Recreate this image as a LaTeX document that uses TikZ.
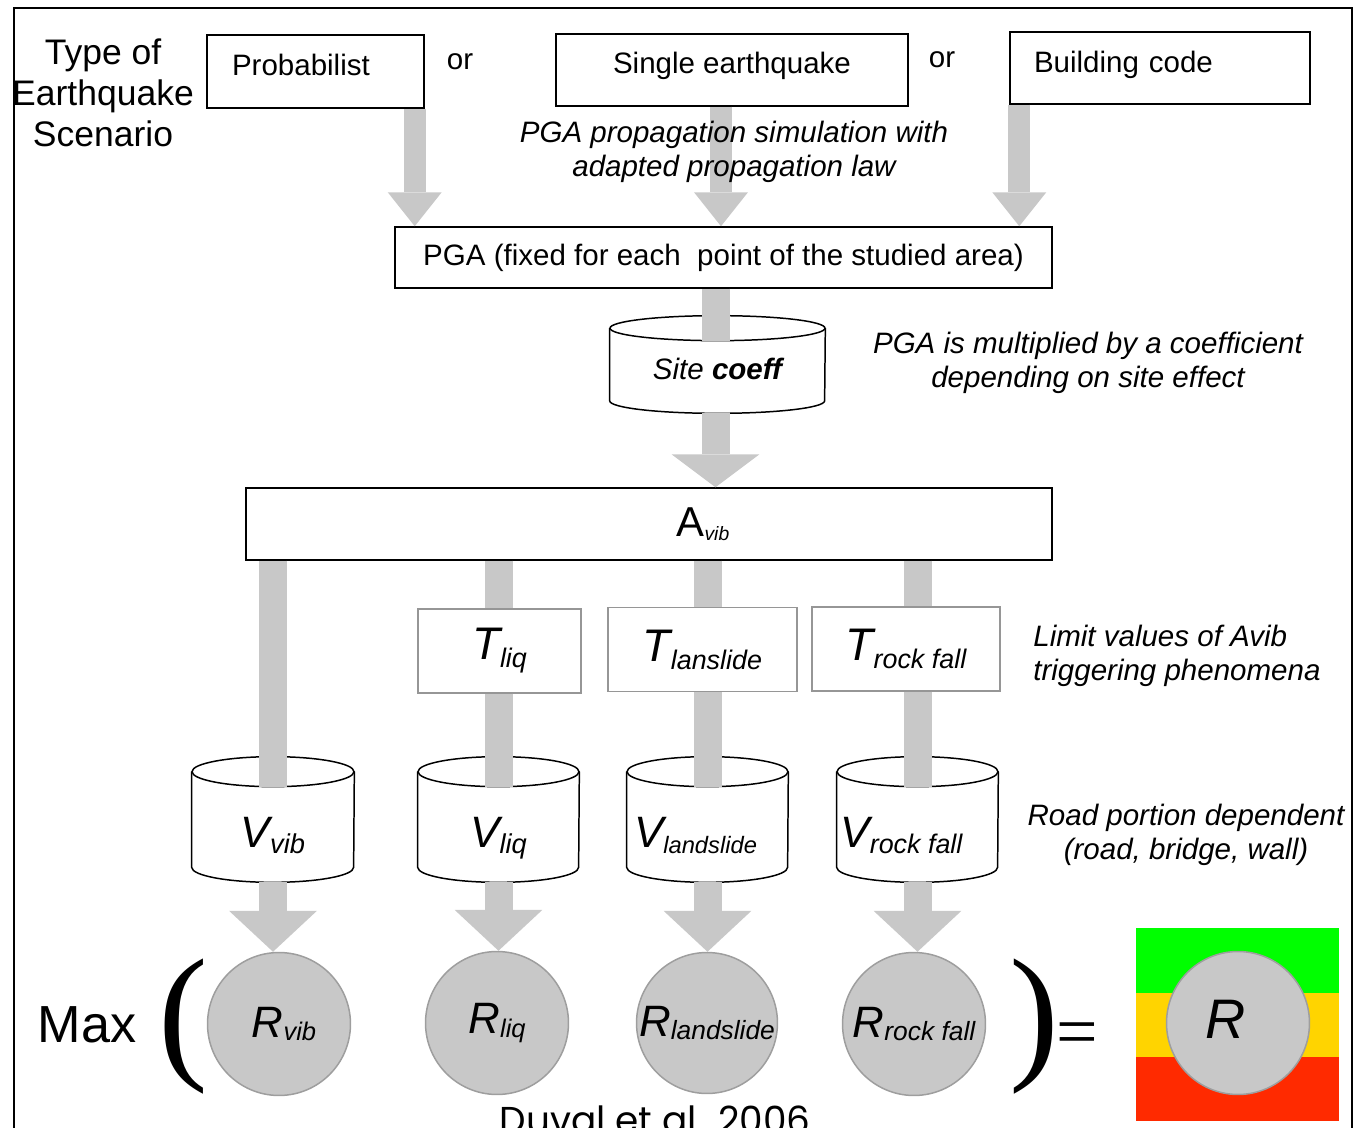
\documentclass[tikz,border=0pt]{standalone}
\usepackage{fontspec}
\setmainfont{Liberation Sans}
\newfontfamily\serifglyph{Liberation Serif}
\newfontfamily\gothicfont{Poppins}
\usepackage{tikz}
\usetikzlibrary{arrows.meta, calc}
\usepackage{xcolor}
\definecolor{shaftgray}{RGB}{200,200,200}
\definecolor{rimgray}{RGB}{158,158,158}
\definecolor{boxgray}{RGB}{150,150,150}
\definecolor{riskgreen}{RGB}{0,255,0}
\definecolor{riskyellow}{RGB}{255,212,0}
\definecolor{riskred}{RGB}{255,42,0}
\newcommand{\lowsub}[3]{\raisebox{-#2}{\fontsize{#1}{#1}\selectfont\itshape #3}}

\begin{document}
\begin{tikzpicture}[x=0.02cm, y=-0.02cm,
  txt/.style={font=\fontsize{16.8}{19.3}\selectfont, inner sep=0pt},
  note/.style={font=\fontsize{16.8}{19.3}\selectfont\itshape, align=center, inner sep=0pt},
  srcbox/.style={draw, line width=0.85pt, inner ysep=0pt, font=\fontsize{16.8}{19.3}\selectfont},
  mainbox/.style={draw, line width=0.85pt, inner sep=0pt},
  limbox/.style={draw=boxgray, line width=0.85pt, inner sep=0pt, minimum height=1.68cm, font=\fontsize{26}{26}\selectfont\itshape},
  can/.style={line width=0.85pt},
  canbox/.style={inner sep=0pt, text height=1.82cm, text depth=0.68cm, font=\fontsize{25}{25}\selectfont\itshape},
  risk/.style={circle, fill=shaftgray, draw=rimgray, line width=0.85pt, inner sep=0pt, minimum size=2.86cm, font=\fontsize{25}{25}\selectfont\itshape},
  thinarrow/.style={draw=shaftgray, line width=0.44cm, -{Triangle[width=1.08cm, length=0.68cm, line width=0pt]}},
  widearrow/.style={draw=shaftgray, line width=0.56cm, -{Triangle[width=1.76cm, length=#1, line width=0pt]}},
  shaft/.style={draw=shaftgray, line width=0.56cm}]
  \useasboundingbox (0,0) rectangle (1357,1128);
  \clip (0,0) rectangle (1357,1128);
  % frame
  \draw[line width=1.1pt] (14,1140) -- (14,8) -- (1352,8) -- (1352,1140);
  % scenario row
  \node[font=\fontsize{20.2}{23.2}\selectfont, align=center, inner sep=0pt] (scen) at (103,93) {Type of\\Earthquake\\Scenario};
  \node[srcbox, text width=3.34cm, align=left, inner xsep=0.5cm, text height=0.82cm, text depth=0.64cm] (prob) at (315.5,71.5) {Probabilist};
  \node[txt] (or1) at (460,62) {or};
  \node[srcbox, minimum width=7.04cm, text height=0.8cm, text depth=0.64cm] (single) at (732,70) {Single earthquake};
  \node[txt] (or2) at (942,60) {or};
  \node[srcbox, text width=5.04cm, align=left, inner xsep=0.48cm, text height=0.82cm, text depth=0.62cm] (build) at (1160,68) {Building code};
  \node[mainbox, minimum width=13.14cm, minimum height=1.22cm, font=\fontsize{16.8}{19.3}\selectfont] (pga) at (723.5,257.5) {PGA (fixed for each \ point of the studied area)};
  % site effect
  \node[inner sep=0pt, minimum width=4.3cm, text height=1.28cm, text depth=0.66cm, font=\fontsize{16.8}{19.3}\selectfont\itshape] (site) at (717.5,364.5) {Site \textbf{coeff}};
  \node[note] (sitenote) at (1088,363) {PGA is multiplied by a coefficient\\depending on site effect};
  \node[mainbox, minimum width=16.12cm, minimum height=1.44cm, font=\fontsize{23.8}{23.8}\selectfont] (avib) at (649,524) {\hspace*{2.16cm}A\lowsub{11}{2.5pt}{vib}};
  % thresholds
  \node[limbox, minimum width=3.26cm] (tliq) at (499.5,651) {T\lowsub{15.3}{4.5pt}{liq}};
  \node[limbox, minimum width=3.78cm] (tland) at (702.5,649.5) {T\lowsub{15.3}{4.5pt}{lanslide}};
  \node[limbox, minimum width=3.76cm] (trock) at (906,649) {T\lowsub{15.3}{4.5pt}{rock fall}};
  \node[note, align=left, anchor=west] (limnote) at (1033,656) {Limit values of Avib\\triggering phenomena};
  % vulnerability
  \node[canbox, minimum width=3.24cm] (vvib) at (273,819.5) {V\lowsub{15.5}{3pt}{vib}};
  \node[canbox, minimum width=3.22cm] (vliq) at (498.5,819.5) {V\lowsub{15.5}{3pt}{liq}};
  \node[canbox, minimum width=3.22cm] (vland) at (707.5,819.5) {V\lowsub{13.5}{3pt}{landslide}\hspace*{0.48cm}};
  \node[canbox, minimum width=3.22cm] (vrock) at (917.5,819.5) {V\lowsub{15.3}{3pt}{rock fall}\hspace*{0.64cm}};
  \node[note] (roadnote) at (1186,835) {Road portion dependent\\(road, bridge, wall)};
  \foreach \n/\rx/\ry in {site/2.15/0.25, vvib/1.62/0.3, vliq/1.61/0.3, vland/1.61/0.3, vrock/1.61/0.3} {
    \draw[can] ($(\n.north)+(0,-\ry cm)$) ellipse[x radius=\rx cm, y radius=\ry cm];
    \draw[can] ($(\n.north west)+(0,-\ry cm)$) -- ($(\n.south west)+(0,\ry cm)$)
      arc[start angle=180, end angle=360, x radius=\rx cm, y radius=\ry cm] -- ($(\n.north east)+(0,-\ry cm)$);
  }
  % risks
  \node[risk] (rvib) at (279,1024) {\hspace*{0.2cm}R\lowsub{14.5}{2pt}{vib}};
  \node[risk] (rliq) at (497,1023) {R\lowsub{14.5}{2pt}{liq}};
  \node[risk, minimum size=2.82cm] (rland) at (707,1023) {R\lowsub{15}{2pt}{landslide}};
  \node[risk] (rrock) at (914,1024) {R\lowsub{15}{2pt}{rock fall}};
  \node[font=\fontsize{29.7}{30}\selectfont, inner sep=0pt] (maxlbl) at (87,1025) {Max};
  \node[font=\serifglyph\fontsize{85}{85}\selectfont, inner sep=0pt] (lpar) at (183,1027) {(};
  \node[font=\serifglyph\fontsize{85}{85}\selectfont, inner sep=0pt] (rpar) at (1034,1027) {)};
  \node[font=\serifglyph\fontsize{42}{42}\selectfont, inner sep=0pt] (eqsign) at (1077,1040) {=};
  \fill[riskgreen] (1136,928) rectangle (1339,993);
  \fill[riskyellow] (1136,993) rectangle (1339,1057);
  \fill[riskred] (1136,1057) rectangle (1339,1121);
  \node[risk, font=\fontsize{31.7}{32}\selectfont\itshape] (rtot) at (1238,1023) {\raisebox{4pt}{R}\hspace*{0.5cm}};
  \node[font=\gothicfont\fontsize{21.3}{22}\selectfont, anchor=base, inner sep=0pt] (credit) at (655,1133) {Duval et al. 2006};
  % connectors
  \coordinate (probout) at ($(prob.south east)+(-10,0)$);
  \coordinate (singleout) at ($(single.south)+(-11,0)$);
  \coordinate (buildout) at ($(build.south west)+(10,0)$);
  \coordinate (pgaout) at ($(pga.south)+(-8,0)$);
  \draw[thinarrow] (probout) -- (probout |- pga.north);
  \draw[thinarrow] (singleout) -- (singleout |- pga.north);
  \draw[thinarrow] (buildout) -- (buildout |- pga.north);
  \draw[shaft] (pgaout) -- ($(pgaout |- site.north)+(0,25)$);
  \draw[widearrow=0.66cm] (pgaout |- site.south) -- (pgaout |- avib.north);
  \draw[shaft] (vvib.north |- avib.south) -- ($(vvib.north)+(0,30)$);
  \foreach \v/\t in {vliq/tliq, vland/tland, vrock/trock} {
    \draw[shaft] (\v.north |- avib.south) -- (\v.north |- \t.north);
    \draw[shaft] (\v.north |- \t.south) -- ($(\v.north)+(0,30)$);
  }
  \foreach \v/\r in {vvib/rvib, vliq/rliq, vland/rland, vrock/rrock}
    \draw[widearrow=0.82cm] (\v.south) -- (\v.south |- \r.north);
  \node[note] (propnote) at (734,152) {PGA propagation simulation with\\adapted propagation law};
\end{tikzpicture}
\end{document}
